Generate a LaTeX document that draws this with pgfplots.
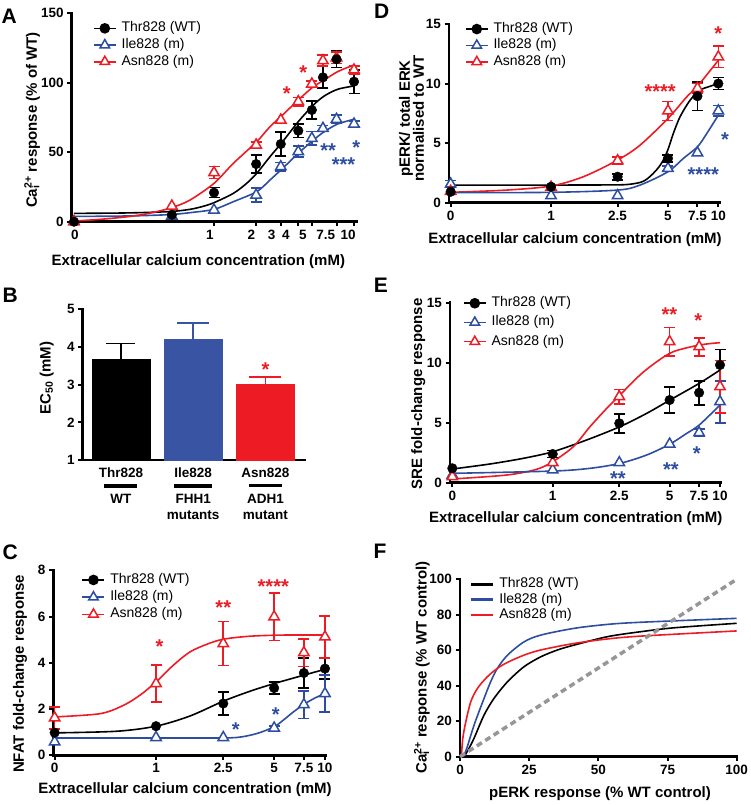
\documentclass[border=0pt]{standalone}
\usepackage{fontspec}
\setmainfont{Liberation Sans}
\usepackage{pgfplots}
\pgfplotsset{compat=1.18}

\definecolor{gpred}{RGB}{237,28,36}
\definecolor{gpblue}{RGB}{44,77,160}
\definecolor{barblue}{RGB}{58,84,164}
\definecolor{dashgray}{RGB}{150,150,150}

\newcommand{\tfont}{\bfseries\fontsize{13.5}{15}\selectfont}
\newcommand{\lfont}{\bfseries\fontsize{15}{15}\selectfont}
\newcommand{\gfont}{\fontsize{14}{16}\selectfont}
\newcommand{\sfont}{\bfseries\fontsize{20}{20}\selectfont}
\newcommand{\pfont}{\bfseries\fontsize{21}{21}\selectfont}
\newcommand{\Cai}{Ca\makebox[0pt][l]{\textsubscript{i}}\textsuperscript{2+}}
\newcommand{\sh}[2]{\kern#1pt#2\kern-#1pt}

\tikzset{star/.style={font=\sfont, inner sep=0pt, yshift=-4.3pt, anchor=center}}

\pgfplotsset{
  gp/.style={scale only axis, anchor=south west, axis lines=left,
    axis line style={-, line width=2.8pt, line cap=rect},
    tick align=outside, major tick length=4.5pt, tick style={line width=2pt, black},
    enlargelimits=false, clip=false,
    tick label style={font=\tfont}, label style={font=\lfont},
    /pgf/number format/assume math mode=true,
    legend cell align=left,
    legend style={draw=none, fill=none, inner sep=0pt, outer sep=0pt, font=\gfont, anchor=north west,
      nodes={inner sep=0pt, text height=10pt, text depth=3pt}, column sep=5pt},
    legend image code/.code={\draw[mark repeat=2, mark phase=2, ##1] plot coordinates {(0pt,0pt) (11pt,0pt) (22pt,0pt)};},
  },
  ebk/.style={error bars/y dir=both, error bars/y explicit,
    error bars/error bar style={line width=1.6pt, #1},
    error bars/error mark options={rotate=90, mark size=5.5pt, line width=1.6pt, #1}},
  ebo/.style={forget plot, only marks, mark=none, ebk=#1},
  wtm/.style={forget plot, only marks, black, mark=*, mark size=4.8pt},
  ilem/.style={forget plot, only marks, gpblue, mark=triangle*, mark size=6pt, mark options={fill=white, line width=1.5pt}},
  asnm/.style={forget plot, only marks, gpred, mark=triangle*, mark size=6pt, mark options={fill=white, line width=1.5pt}},
  crv/.style={forget plot, #1, line width=1.6pt, smooth, mark=none},
  lwt/.style={black, line width=1.6pt, mark=*, mark size=4.5pt},
  lile/.style={gpblue, line width=1.6pt, mark=triangle*, mark size=5.5pt, mark options={fill=white, solid, line width=1.5pt}},
  lasn/.style={gpred, line width=1.6pt, mark=triangle*, mark size=5.5pt, mark options={fill=white, solid, line width=1.5pt}},
  ctick/.style={xtick={-0.6,0,0.39794,0.69897,0.87506,1}, xticklabels={0,1,2.5,5,7.5,10}},
}

\begin{document}
\begin{tikzpicture}
\useasboundingbox (0,0) rectangle (750pt,-805pt);

% panel letters
\node[font=\pfont] at (9.2pt,-15.8pt) {A};
\node[font=\pfont] at (10.3pt,-295pt) {B};
\node[font=\pfont] at (10.3pt,-552.5pt) {C};
\node[font=\pfont] at (381.7pt,-11.7pt) {D};
\node[font=\pfont] at (380.8pt,-285pt) {E};
\node[font=\pfont] at (380pt,-551.7pt) {F};

%%%%%%%%%%%%%%%% A
\begin{axis}[gp, at={(71.7pt,-221.7pt)}, width=285.3pt, height=208.4pt,
  xmin=-1.0164, xmax=1.0214, ymin=0, ymax=150, ytick={0,50,100,150},
  xtick={-1,0,0.30103,0.47712,0.60206,0.69897,0.87506,1},
  xticklabels={\sh{1}{0},\sh{-4}{1},\sh{-4.7}{2},\sh{-9.2}{3},\sh{-12.5}{4},\sh{-9}{5},\sh{-10.7}{7.5},\sh{-6}{10}},
  xlabel={Extracellular calcium concentration (mM)},
  ylabel={\Cai\ response (\% of WT)},
  xlabel style={at={(axis description cs:0.444,-0.193)}, anchor=center},
  ylabel style={at={(axis description cs:-0.139,0.488)}, anchor=center},
  legend style={at={(0.0747,0.959)}, row sep=3.7pt}]
\addlegendimage{lwt}\addlegendentry{Thr828 (WT)}
\addlegendimage{lile}\addlegendentry{Ile828 (m)}
\addlegendimage{lasn}\addlegendentry{Asn828 (m)}
\addplot[ebo=black] table[x=u,y=v,y error=e] {
u v e
0 20.9 3.6
0.30103 41.5 6.5
0.47712 55.9 8.7
0.60206 65.5 5
0.69897 80.4 6.5
0.77815 103.9 7.8
0.87506 116.9 5.8
1 100.8 8.6
};
\addplot[ebo=gpblue] table[x=u,y=v,y error=e] {
u v e
0.30103 19.2 5
0.47712 39.6 3
0.60206 50.4 4
0.69897 60 5
0.77815 67.2 2
0.87506 73.7 3
1 70.3 2
};
\addplot[ebo=gpred] table[x=u,y=v,y error=e] {
u v e
0 35.3 4.3
0.30103 55.2 2
0.60206 86.4 3
0.69897 99.1 2
0.77815 115.9 4
0.87506 118 4
1 109.2 3
};
\addplot[crv=black] coordinates {(-1,6.0) (-0.7,6.2) (-0.5,6.6) (-0.3,7.4) (-0.171,8.9) (-0.08,11) (0,13.7) (0.138,20.4) (0.233,27.6) (0.305,34.8) (0.4,46.8) (0.49,57.6) (0.602,72) (0.71,84) (0.788,90.5) (0.883,95.3) (1.0,97.7)};
\addplot[crv=gpblue] coordinates {(-1,3.8) (-0.7,4.0) (-0.5,4.4) (-0.3,5.2) (-0.171,6.5) (0,8.9) (0.138,14.4) (0.305,21.6) (0.4,30) (0.49,38.4) (0.602,49.2) (0.71,58.8) (0.788,64.8) (0.883,70.3) (1.0,73.7)};
\addplot[crv=gpred] coordinates {(-1,0.5) (-0.8,1.8) (-0.6,3.8) (-0.45,6.3) (-0.3,10.2) (-0.171,15.6) (0,27.6) (0.138,42) (0.305,57.6) (0.4,68.4) (0.49,76.8) (0.602,87.6) (0.71,97.2) (0.788,102) (0.883,108) (1.0,112.8)};
\addplot[ilem] table[x=u,y=v] {
u v
-1 0
-0.30103 4
0 8.4
0.30103 19.2
0.47712 39.6
0.60206 50.4
0.69897 60
0.77815 67.2
0.87506 73.7
1 70.3
};
\addplot[asnm] table[x=u,y=v] {
u v
-1 0
-0.30103 11.3
0 35.3
0.30103 55.2
0.47712 73.2
0.60206 86.4
0.69897 99.1
0.77815 115.9
0.87506 118
1 109.2
};
\addplot[wtm] table[x=u,y=v] {
u v
-1 0
-0.30103 5
0 20.9
0.30103 41.5
0.47712 55.9
0.60206 65.5
0.69897 80.4
0.77815 103.9
0.87506 116.9
1 100.8
};
\node[star, text=gpred] at (axis cs:0.519,95.3) {*};
\node[star, text=gpred] at (axis cs:0.638,110.4) {*};
\node[star, text=gpblue] at (axis cs:0.816,54.5) {**};
\node[star, text=gpblue] at (axis cs:1.016,56.5) {*};
\node[star, text=gpblue] at (axis cs:0.925,44.2) {***};
\end{axis}

%%%%%%%%%%%%%%%% B
\begin{axis}[gp, clip=true, at={(82.7pt,-460pt)}, width=222.3pt, height=150.7pt,
  xmin=-0.53, xmax=2.547, ymin=1, ymax=5, ytick={1,2,3,4,5},
  xtick={0,1,2}, xtick style={draw=none},
  xticklabels={{Thr828\\[-5pt]\rule{33pt}{3.5pt}\\[1pt]WT},{Ile828\\[-5pt]\rule{38pt}{3.5pt}\\[1pt]FHH1\\[1pt]mutants},{Asn828\\[-5pt]\rule{33pt}{3.5pt}\\[1pt]ADH1\\[1pt]mutant}},
  xticklabel style={align=center},
  ylabel={EC\textsubscript{50} (mM)},
  ylabel style={at={(axis description cs:-0.162,0.544)}, anchor=center},
  ybar, bar width=58pt]
\addplot[fill=black, draw=black, bar shift=0pt, error bars/y dir=plus, error bars/y explicit, error bars/error bar style={line width=1.8pt, black}, error bars/error mark options={rotate=90, mark size=14.5pt, line width=1.8pt, black}] coordinates {(0,3.68) +- (0,0.41)};
\addplot[fill=barblue, draw=barblue, bar shift=0pt, error bars/y dir=plus, error bars/y explicit, error bars/error bar style={line width=1.8pt, barblue}, error bars/error mark options={rotate=90, mark size=16pt, line width=1.8pt, barblue}] coordinates {(1,4.2) +- (0,0.43)};
\addplot[fill=gpred, draw=gpred, bar shift=0pt, error bars/y dir=plus, error bars/y explicit, error bars/error bar style={line width=1.8pt, gpred}, error bars/error mark options={rotate=90, mark size=16pt, line width=1.8pt, gpred}] coordinates {(2,3.02) +- (0,0.19)};
\node[star, text=gpred] at (axis cs:2,3.52) {*};
\end{axis}

%%%%%%%%%%%%%%%% C
\begin{axis}[gp, ctick, at={(53.3pt,-755.3pt)}, width=272.7pt, height=185pt,
  xmin=-0.608, xmax=1.006, ymin=0, ymax=8, ytick={0,2,4,6,8},
  xlabel={Extracellular calcium concentration (mM)},
  ylabel={NFAT fold-change response},
  xlabel style={at={(axis description cs:0.483,-0.188)}, anchor=center},
  ylabel style={at={(axis description cs:-0.122,0.44)}, anchor=center},
  legend style={at={(0.104,0.983)}, row sep=4.2pt}]
\addlegendimage{lwt}\addlegendentry{Thr828 (WT)}
\addlegendimage{lile}\addlegendentry{Ile828 (m)}
\addlegendimage{lasn}\addlegendentry{Asn828 (m)}
\addplot[ebo=black] table[x=u,y=v,y error=e] {
u v e
0.39794 2.24 0.5
0.69897 2.91 0.25
0.87506 3.56 0.65
1 3.75 0.45
};
\addplot[ebo=gpblue] table[x=u,y=v,y error=e] {
u v e
0.69897 1.18 0.1
0.87506 2.19 0.6
1 2.67 0.8
};
\addplot[ebo=gpred] table[x=u,y=v,y error=e] {
u v e
-0.6 1.62 0.47
0 3.1 0.8
0.39794 4.83 0.95
0.69897 5.99 1.03
0.87506 4.44 0.6
1 5.12 0.9
};
\addplot[crv=gpred] coordinates {(-0.6,1.66) (-0.331,1.8) (-0.193,2.16) (-0.095,2.6) (0,3.17) (0.103,3.9) (0.201,4.47) (0.3,4.8) (0.398,5.02) (0.556,5.15) (0.753,5.2) (1.0,5.2)};
\addplot[crv=black] coordinates {(-0.6,0.97) (-0.233,1.04) (0,1.26) (0.201,1.7) (0.398,2.34) (0.556,2.77) (0.698,3.1) (0.872,3.46) (1.0,3.72)};
\addplot[crv=gpblue] coordinates {(-0.6,0.75) (0.3,0.75) (0.477,0.77) (0.596,0.94) (0.698,1.23) (0.753,1.52) (0.812,1.87) (0.872,2.19) (0.941,2.48) (1.0,2.67)};
\addplot[ilem] table[x=u,y=v] {
u v
-0.6 0.58
0 0.77
0.39794 0.77
0.69897 1.18
0.87506 2.19
1 2.67
};
\addplot[asnm] table[x=u,y=v] {
u v
-0.6 1.62
0 3.1
0.39794 4.83
0.69897 5.99
0.87506 4.44
1 5.12
};
\addplot[wtm] table[x=u,y=v] {
u v
-0.6 0.98
0 1.26
0.39794 2.24
0.69897 2.91
0.87506 3.56
1 3.75
};
\node[star, text=gpred] at (axis cs:0.02,4.9) {*};
\node[star, text=gpred] at (axis cs:0.398,6.57) {**};
\node[star, text=gpred] at (axis cs:0.694,7.48) {****};
\node[star, text=gpblue] at (axis cs:0.472,1.3) {*};
\node[star, text=gpblue] at (axis cs:0.708,1.95) {*};
\end{axis}

%%%%%%%%%%%%%%%% D
\begin{axis}[gp, ctick, at={(449pt,-202.7pt)}, width=271pt, height=178.7pt,
  xmin=-0.610, xmax=1.010, ymin=0, ymax=15, ytick={0,5,10,15},
  xlabel={Extracellular calcium concentration (mM)},
  ylabel={pERK/ total ERK\\[-1pt]normalised to WT},
  xlabel style={at={(axis description cs:0.465,-0.209)}, anchor=center},
  ylabel style={at={(axis description cs:-0.138,0.471)}, anchor=center, align=center},
  legend style={at={(0.059,1.008)}, row sep=3.4pt}]
\addlegendimage{lwt}\addlegendentry{Thr828 (WT)}
\addlegendimage{lile}\addlegendentry{Ile828 (m)}
\addlegendimage{lasn}\addlegendentry{Asn828 (m)}
\addplot[ebo=black] table[x=u,y=v,y error=e] {
u v e
0.39794 2.18 0.25
0.69897 3.72 0.3
0.87506 8.94 1.2
1 10.0 0.5
};
\addplot[ebo=gpblue] table[x=u,y=v,y error=e] {
u v e
-0.6 1.57 0.3
0.69897 2.88 0.2
1 7.71 0.45
};
\addplot[ebo=gpred] table[x=u,y=v,y error=e] {
u v e
0.39794 3.52 0.3
0.69897 7.71 0.8
0.87506 9.6 0.4
1 12.24 0.9
};
\addplot[crv=black] coordinates {(-0.6,1.48) (0,1.48) (0.3,1.49) (0.45,1.52) (0.532,1.7) (0.57,1.95) (0.611,2.46) (0.645,3.0) (0.671,3.58) (0.7,4.5) (0.731,5.81) (0.771,7.21) (0.831,8.6) (0.89,9.44) (0.95,9.77) (1.0,10.0)};
\addplot[crv=gpred] coordinates {(-0.6,0.87) (-0.265,1.06) (0,1.4) (0.193,2.18) (0.398,3.58) (0.532,4.83) (0.699,7.07) (0.811,8.88) (0.875,9.77) (1.0,11.95)};
\addplot[crv=gpblue] coordinates {(-0.6,0.84) (0,0.87) (0.398,1.06) (0.532,1.48) (0.699,2.6) (0.791,3.72) (0.875,4.69) (0.931,5.81) (1.0,7.35)};
\addplot[ilem] table[x=u,y=v] {
u v
-0.6 1.57
0 0.59
0.39794 0.59
0.69897 2.88
0.87506 4.19
1 7.71
};
\addplot[asnm] table[x=u,y=v] {
u v
-0.6 0.95
0 1.3
0.39794 3.52
0.69897 7.71
0.87506 9.6
1 12.24
};
\addplot[wtm] table[x=u,y=v] {
u v
-0.6 0.92
0 1.34
0.39794 2.18
0.69897 3.72
0.87506 8.94
1 10.0
};
\node[star, text=gpred] at (axis cs:0.652,9.72) {****};
\node[star, text=gpred] at (axis cs:1.0,14.52) {*};
\node[star, text=gpblue] at (axis cs:1.04,5.67) {*};
\node[star, text=gpblue] at (axis cs:0.91,2.68) {****};
\end{axis}

%%%%%%%%%%%%%%%% E
\begin{axis}[gp, ctick, at={(450pt,-482.7pt)}, width=271pt, height=180pt,
  xmin=-0.614, xmax=1.006, ymin=0, ymax=15, ytick={0,5,10,15},
  xlabel={Extracellular calcium concentration (mM)},
  ylabel={SRE fold-change response},
  xlabel style={at={(axis description cs:0.464,-0.198)}, anchor=center},
  ylabel style={at={(axis description cs:-0.117,0.493)}, anchor=center},
  legend style={at={(0.048,1.033)}, row sep=6.2pt}]
\addlegendimage{lwt}\addlegendentry{Thr828 (WT)}
\addlegendimage{lile}\addlegendentry{Ile828 (m)}
\addlegendimage{lasn}\addlegendentry{Asn828 (m)}
\addplot[ebo=black] table[x=u,y=v,y error=e] {
u v e
0 2.39 0.3
0.39794 4.95 0.8
0.69897 6.89 1.1
0.87506 7.5 1.0
1 9.81 1.3
};
\addplot[ebo=gpblue] table[x=u,y=v,y error=e] {
u v e
0.87506 4.17 0.3
1 6.75 1.75
};
\addplot[ebo=gpred] table[x=u,y=v,y error=e] {
u v e
0.39794 7.17 0.6
0.69897 11.75 1.2
0.87506 11.33 0.75
1 8.0 2.2
};
\addplot[crv=black] coordinates {(-0.6,1.14) (-0.375,1.56) (-0.176,2.03) (0,2.58) (0.203,3.56) (0.402,4.67) (0.562,5.78) (0.701,6.89) (0.876,8.28) (1.0,9.39)};
\addplot[crv=gpred] coordinates {(-0.6,0.31) (-0.275,0.64) (-0.1,1.1) (0,1.75) (0.123,3.0) (0.223,4.67) (0.323,6.2) (0.402,7.31) (0.522,8.98) (0.622,10.08) (0.721,10.92) (0.876,11.47) (1.0,11.67)};
\addplot[crv=gpblue] coordinates {(-0.6,0.78) (0,0.97) (0.223,1.2) (0.402,1.61) (0.562,2.31) (0.701,3.22) (0.801,4.11) (0.876,4.81) (1.0,6.47)};
\addplot[ilem] table[x=u,y=v] {
u v
-0.6 0.64
0 1.06
0.39794 1.67
0.69897 3.22
0.87506 4.17
1 6.75
};
\addplot[asnm] table[x=u,y=v] {
u v
-0.6 0.5
0 1.67
0.39794 7.17
0.69897 11.75
0.87506 11.33
1 8.0
};
\addplot[wtm] table[x=u,y=v] {
u v
-0.6 1.2
0 2.39
0.39794 4.95
0.69897 6.89
0.87506 7.5
1 9.81
};
\node[star, text=gpred] at (axis cs:0.697,14.33) {**};
\node[star, text=gpred] at (axis cs:0.870,13.83) {*};
\node[star, text=gpblue] at (axis cs:0.389,0.725) {**};
\node[star, text=gpblue] at (axis cs:0.707,1.475) {**};
\node[star, text=gpblue] at (axis cs:0.861,2.78) {*};
\end{axis}

%%%%%%%%%%%%%%%% F
\begin{axis}[gp, at={(460pt,-756.7pt)}, width=276.7pt, height=177.4pt,
  xmin=0, xmax=100, ymin=0, ymax=100, xtick={0,25,50,75,100}, ytick={0,20,40,60,80,100},
  xlabel={pERK response (\% WT control)},
  ylabel={\Cai\ response (\% WT control)},
  xlabel style={at={(axis description cs:0.506,-0.206)}, anchor=center},
  ylabel style={at={(axis description cs:-0.138,0.503)}, anchor=center},
  legend style={at={(0.036,1.008)}, row sep=2.3pt}]
\addlegendimage{black, line width=2.4pt}\addlegendentry{Thr828 (WT)}
\addlegendimage{gpblue, line width=2.4pt}\addlegendentry{Ile828 (m)}
\addlegendimage{gpred, line width=2.4pt}\addlegendentry{Asn828 (m)}
\addplot[crv=black] coordinates {(1.5,0) (3,4) (5.1,10.5) (8.7,23.5) (12.3,32.9) (17.2,42.3) (23.2,50.8) (29.3,56.4) (35.3,60.2) (41.4,63) (53.4,67.7) (65.5,70.5) (77.6,72.7) (100,75.2)};
\addplot[crv=gpblue] coordinates {(1.2,0) (2.5,5) (5.1,17.9) (8.7,32.9) (11.1,42.3) (13.5,49.8) (17.2,57.3) (23.2,64.8) (29.3,68.6) (41.4,72.4) (53.4,74.6) (65.5,75.8) (100,78)};
\addplot[crv=gpred] coordinates {(0.5,0) (1,10.3) (2.1,19.7) (3.9,31) (6.3,38.5) (9.9,45.1) (13.5,49.8) (17.2,53.2) (23.2,57.3) (29.3,60.2) (41.4,63.9) (53.4,66.4) (65.5,68) (100,70.9)};
\addplot[forget plot, dashgray, line width=3.5pt, dash pattern=on 6pt off 4pt] coordinates {(0,0) (100,100)};
\end{axis}
\end{tikzpicture}
\end{document}
